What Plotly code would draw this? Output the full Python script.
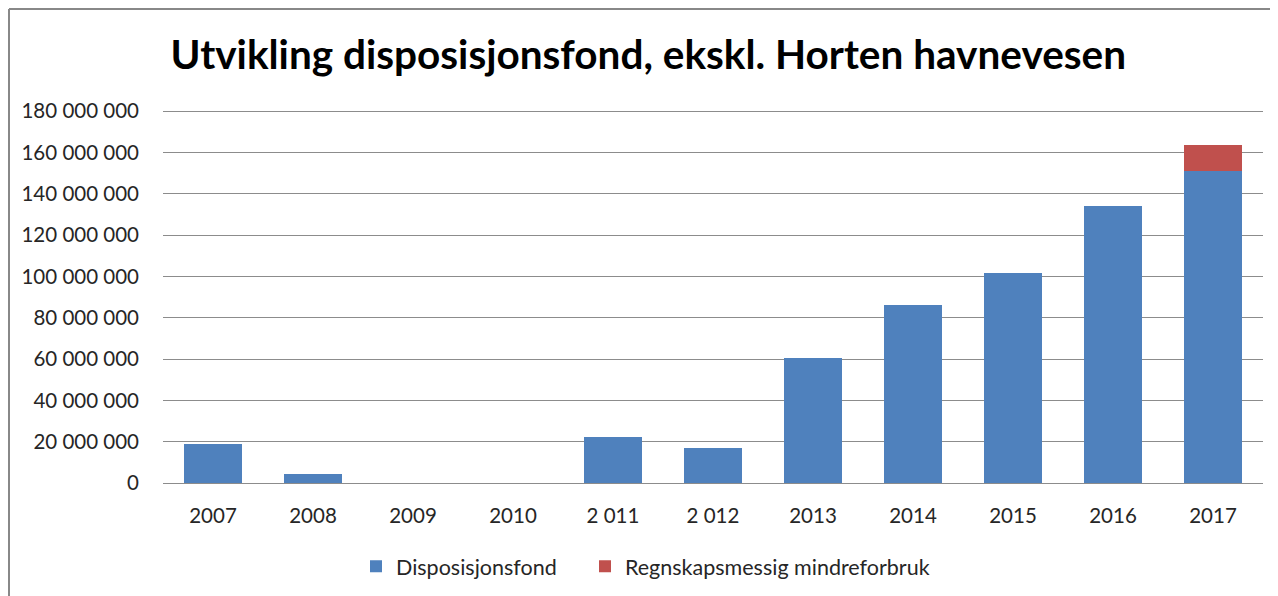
import plotly.graph_objects as go

categories = ["2007", "2008", "2009", "2010", "2 011", "2 012", "2013", "2014", "2015", "2016", "2017"]
disposisjonsfond = [18.7e6, 4.2e6, 0, 0, 22.5e6, 16.9e6, 60.5e6, 86.1e6, 101.7e6, 134.0e6, 151.1e6]
mindreforbruk = [0, 0, 0, 0, 0, 0, 0, 0, 0, 0, 12.7e6]
tick_vals = [0, 20e6, 40e6, 60e6, 80e6, 100e6, 120e6, 140e6, 160e6, 180e6]
tick_text = ["0", "20 000 000", "40 000 000", "60 000 000", "80 000 000", "100 000 000",
             "120 000 000", "140 000 000", "160 000 000", "180 000 000"]

W, H = 1278, 596
L, R, T, B = 155, 23, 102, 121
PW, PH = W - L - R, H - T - B

fig = go.Figure()
fig.add_trace(go.Bar(x=categories, y=disposisjonsfond, name="Disposisjonsfond",
                     marker=dict(color="#4F81BD", line=dict(width=0)), legend="legend"))
fig.add_trace(go.Bar(x=categories, y=mindreforbruk, name="Regnskapsmessig mindreforbruk",
                     marker=dict(color="#C0504D", line=dict(width=0)), legend="legend2"))

leg_common = dict(orientation="h", xanchor="left", y=-0.168, yanchor="top",
                  font=dict(size=21.5), itemwidth=30, bgcolor="rgba(0,0,0,0)")

fig.update_layout(
    width=W, height=H,
    barmode="stack", bargap=0.42,
    paper_bgcolor="white", plot_bgcolor="white",
    margin=dict(l=L, r=R, t=T, b=B),
    font=dict(family="Lato", size=20.5, color="#262626"),
    title=dict(text="<b>Utvikling disposisjonsfond, ekskl. Horten havnevesen</b>",
               x=0.501, xanchor="center", y=0.921, yanchor="middle",
               font=dict(family="Lato", size=40.5, color="black")),
    legend=dict(x=(356 - 163) / PW, **leg_common),
    legend2=dict(x=(585 - 163) / PW, **leg_common),
    showlegend=True,
)
fig.update_yaxes(range=[0, 180e6 * 1.003], tickvals=tick_vals, ticktext=tick_text,
                 showgrid=True, gridcolor="#8C8C8C", gridwidth=1,
                 zeroline=True, zerolinecolor="#8C8C8C", zerolinewidth=1,
                 showline=False, ticks="", ticklabelstandoff=23)
fig.update_xaxes(showgrid=False, showline=False, ticks="", ticklabelstandoff=18)

# outer chart border (left and top edges visible in the reference)
top_y = (H - B - 1) / PH
left_x = (1 - L) / PW
fig.add_shape(type="line", xref="paper", yref="paper",
              x0=left_x, x1=1 + R / PW, y0=top_y, y1=top_y,
              line=dict(color="#888888", width=2))
fig.add_shape(type="line", xref="paper", yref="paper",
              x0=left_x, x1=left_x, y0=-B / PH, y1=top_y,
              line=dict(color="#888888", width=2))

fig.write_html("out.html")
